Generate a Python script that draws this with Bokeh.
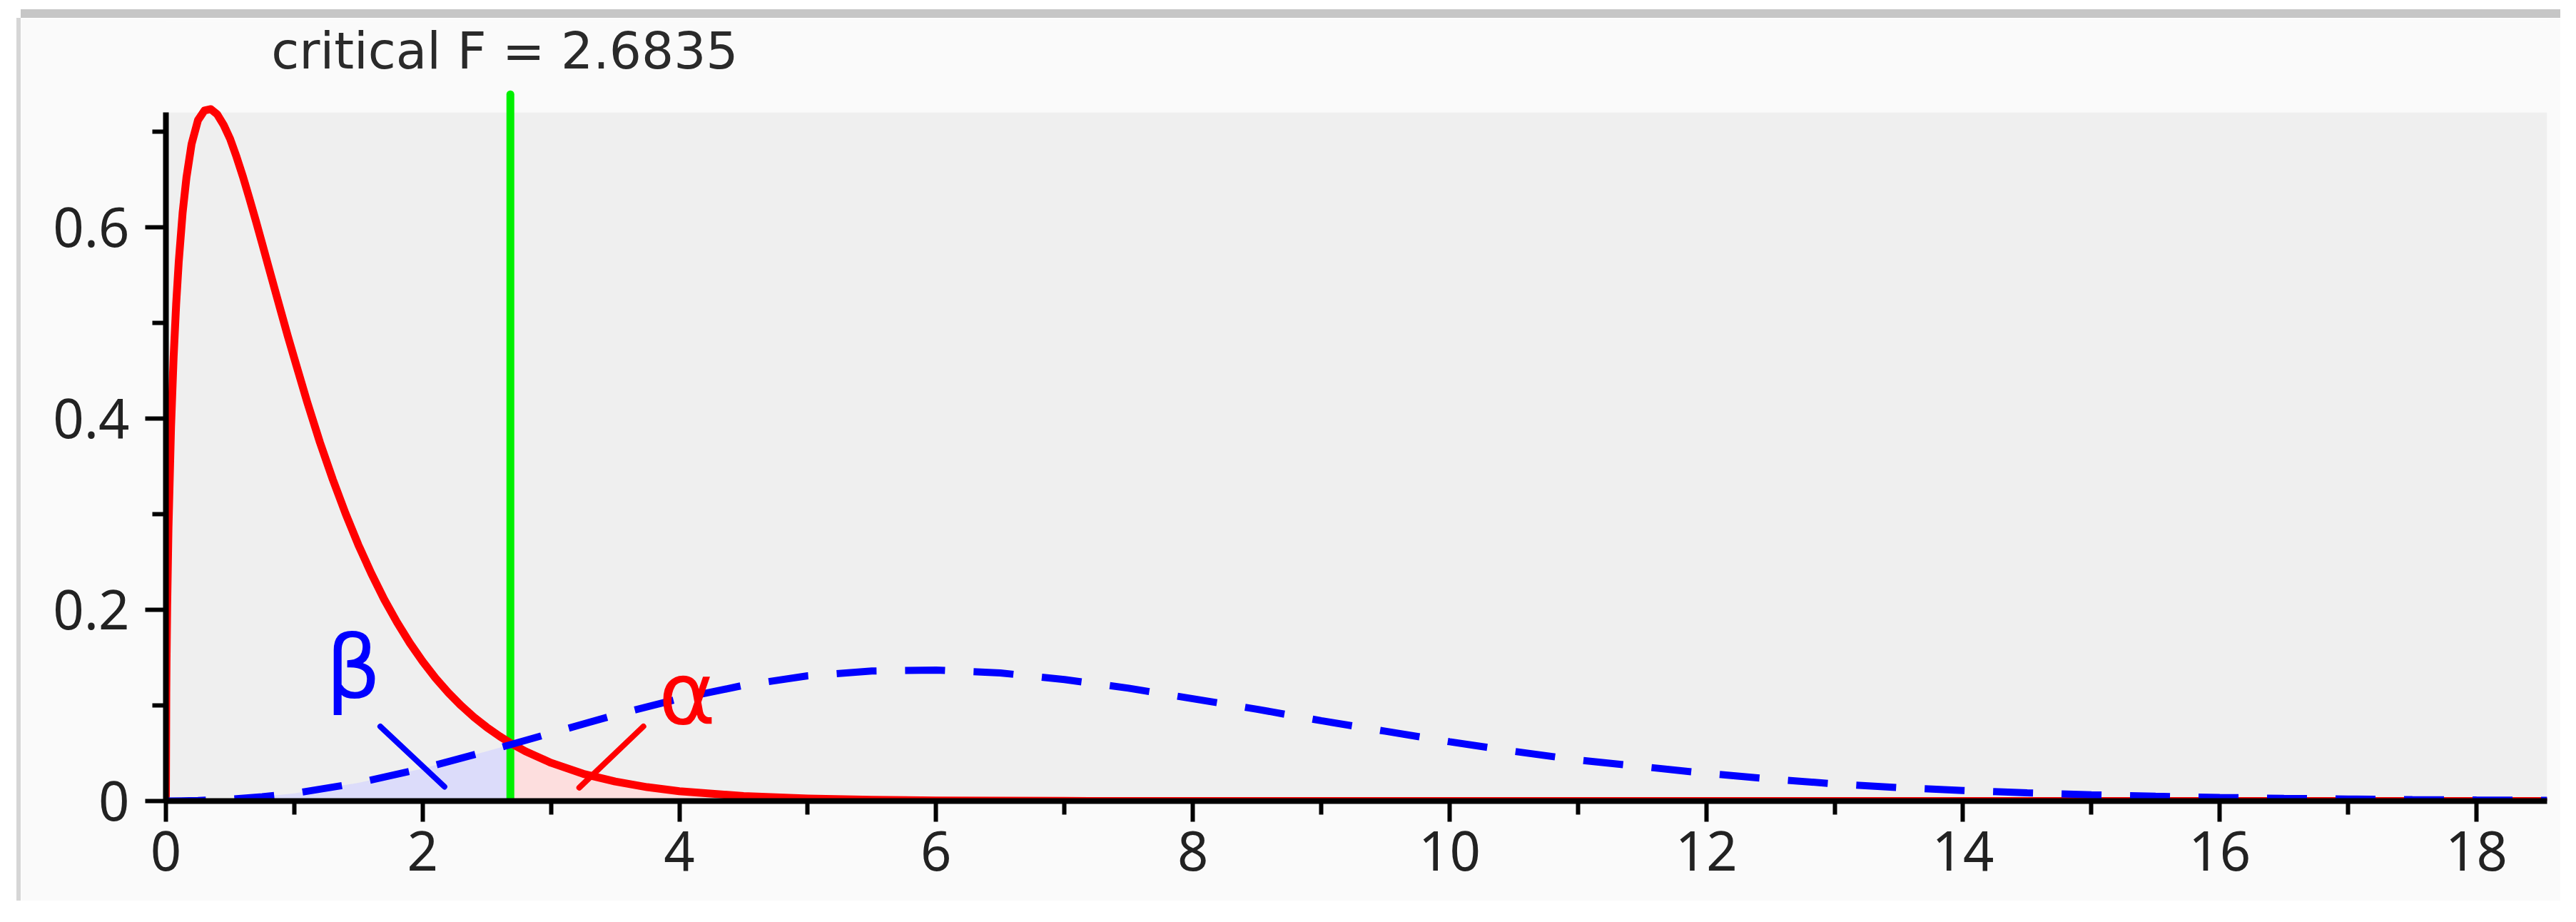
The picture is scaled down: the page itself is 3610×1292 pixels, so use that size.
import numpy as np
from bokeh.plotting import figure
from bokeh.models import Range1d, FixedTicker, BoxAnnotation, Label
from bokeh.embed import file_html
from bokeh.resources import INLINE

# ---------------- data ----------------
CRIT_F = 2.6835
X_MAX = 18.55
Y_MAX = 0.72

# central F density (null hypothesis), red solid
red_x = [0, 0.003, 0.005, 0.01, 0.02, 0.04, 0.06, 0.08, 0.1, 0.13, 0.16, 0.2,
         0.25, 0.3, 0.35, 0.4, 0.45, 0.5, 0.55, 0.6, 0.65, 0.7, 0.75, 0.8, 0.85,
         0.9, 0.95, 1.0, 1.1, 1.2, 1.3, 1.4, 1.5, 1.6, 1.7, 1.8, 1.9, 2.0, 2.1,
         2.2, 2.3, 2.4, 2.5, 2.6, 2.6835, 2.8, 3.0, 3.25, 3.5, 3.75, 4.0, 4.5,
         5.0, 5.5, 6.0, 7.0, 8.0, 18.55]
red_y = [0, 0.113, 0.1455, 0.204, 0.285, 0.391, 0.464, 0.520, 0.564, 0.615,
         0.652, 0.687, 0.712, 0.722, 0.7235, 0.718, 0.707, 0.6925, 0.6737,
         0.653, 0.6304, 0.607, 0.5829, 0.5585, 0.5342, 0.510, 0.486, 0.463,
         0.4175, 0.375, 0.3363, 0.3005, 0.2676, 0.238, 0.211, 0.187, 0.1653,
         0.146, 0.1287, 0.1134, 0.0998, 0.0877, 0.0771, 0.0677, 0.0607, 0.052,
         0.040, 0.0285, 0.0204, 0.0145, 0.0103, 0.0052, 0.0026, 0.0013, 0.0006,
         0.0001, 0, 0]

# noncentral F density (alternative), blue dashed
blue_x = [0, 0.25, 0.5, 0.75, 1, 1.5, 2, 2.5, 2.6835, 3, 3.5, 4, 4.5, 5, 5.5, 6,
          6.5, 7, 7.5, 8, 8.5, 9, 9.5, 10, 10.5, 11, 11.5, 12, 12.5, 13, 13.5,
          14, 14.5, 15, 15.5, 16, 16.5, 17, 17.5, 18, 18.55]
blue_y = [0, 0.0005, 0.002, 0.0045, 0.008, 0.019, 0.034, 0.052, 0.059, 0.071,
          0.090, 0.107, 0.121, 0.131, 0.136, 0.137, 0.134, 0.127, 0.118, 0.107,
          0.096, 0.084, 0.073, 0.062, 0.052, 0.043, 0.036, 0.029, 0.023, 0.018,
          0.014, 0.011, 0.0085, 0.0065, 0.005, 0.0038, 0.0028, 0.0021, 0.0015,
          0.0011, 0.0008]

x_ticks = [0, 2, 4, 6, 8, 10, 12, 14, 16, 18]
x_minor = [1, 3, 5, 7, 9, 11, 13, 15, 17]
x_tick_labels = ["0", "2", "4", "6", "8", "10", "12", "14", "16", "18"]
y_ticks = [0, 0.2, 0.4, 0.6]
y_minor = [0.1, 0.3, 0.5, 0.7]
y_tick_labels = ["0", "0.2", "0.4", "0.6"]

title_text = "critical F = 2.6835"
beta_text = "β"
alpha_text = "α"

# annotation placement (data units)
TITLE_POS = (2.64, 0.784)
GREEN_TOP = 0.739
BETA_POS = (1.46, 0.140)
ALPHA_POS = (4.06, 0.112)
BETA_PTR = (1.67, 0.078, 2.17, 0.015)
ALPHA_PTR = (3.72, 0.078, 3.22, 0.014)

TICK_FONT = "Noto Sans"
TEXT_FONT = "DejaVu Sans"

# ---------------- figure ----------------
p = figure(width=3559, height=1237, output_backend="svg", toolbar_location=None,
           x_range=Range1d(0, X_MAX), y_range=Range1d(0, 0.8149),
           min_border_left=203, min_border_right=19, min_border_top=5,
           min_border_bottom=140)
p.margin = (25, 0, 0, 29)
p.styles = {"box-shadow": "-6px 0px 0px 0px #d6d6d6, 0px -12px 0px 0px #c6c6c6"}
p.background_fill_color = "#fafafa"
p.border_fill_color = "#fafafa"
p.outline_line_color = None
p.grid.visible = False

p.add_layout(BoxAnnotation(left=0, right=X_MAX, bottom=0, top=Y_MAX,
                           fill_color="#efefef", fill_alpha=1, line_color=None,
                           level="underlay"))

rx = np.array(red_x); ry = np.array(red_y)
bx = np.array(blue_x); by = np.array(blue_y)
mb = bx <= CRIT_F
mr = rx >= CRIT_F
p.varea(x=bx[mb], y1=0, y2=by[mb], fill_color="#dcdcfa", fill_alpha=1)
p.varea(x=rx[mr], y1=0, y2=ry[mr], fill_color="#fddede", fill_alpha=1)

p.segment(x0=[CRIT_F], y0=[0], x1=[CRIT_F], y1=[GREEN_TOP], line_color="#00f000",
          line_width=11, line_cap="round")
p.line(rx, ry, line_color="#ff0000", line_width=11, line_join="round")
p.line(bx, by, line_color="#0000ff", line_width=10, line_dash="56 40")

p.segment(x0=[BETA_PTR[0]], y0=[BETA_PTR[1]], x1=[BETA_PTR[2]], y1=[BETA_PTR[3]],
          line_color="#0000ff", line_width=8, line_cap="round")
p.segment(x0=[ALPHA_PTR[0]], y0=[ALPHA_PTR[1]], x1=[ALPHA_PTR[2]], y1=[ALPHA_PTR[3]],
          line_color="#ff0000", line_width=8, line_cap="round")

p.add_layout(Label(x=BETA_POS[0], y=BETA_POS[1], text=beta_text, text_align="center",
                   text_baseline="alphabetic", text_font=TEXT_FONT,
                   text_font_size="122px", text_color="#0000ff"))
p.add_layout(Label(x=ALPHA_POS[0], y=ALPHA_POS[1], text=alpha_text, text_align="center",
                   text_baseline="alphabetic", text_font=TEXT_FONT,
                   text_font_size="122px", text_color="#ff0000"))
p.add_layout(Label(x=TITLE_POS[0], y=TITLE_POS[1], text=title_text, text_align="center",
                   text_baseline="alphabetic", text_font=TEXT_FONT,
                   text_font_size="71px", text_color="#2a2a2a"))

# axes
xa = p.xaxis[0]
xa.ticker = FixedTicker(ticks=x_ticks, minor_ticks=x_minor)
xa.major_label_overrides = {t: l for t, l in zip(x_ticks, x_tick_labels)}
ya = p.yaxis[0]
ya.ticker = FixedTicker(ticks=y_ticks, minor_ticks=y_minor)
ya.major_label_overrides = {t: l for t, l in zip(y_ticks, y_tick_labels)}
ya.bounds = (0, Y_MAX)
for ax in (xa, ya):
    ax.axis_line_width = 8
    ax.axis_line_color = "#000000"
    ax.major_tick_line_width = 6
    ax.minor_tick_line_width = 6
    ax.major_tick_line_color = "#000000"
    ax.minor_tick_line_color = "#000000"
    ax.major_tick_out = 29
    ax.major_tick_in = 0
    ax.minor_tick_out = 19
    ax.minor_tick_in = 0
    ax.major_label_text_font = TICK_FONT
    ax.major_label_text_font_size = "76px"
    ax.major_label_text_color = "#222222"
xa.major_label_standoff = 13
ya.major_label_standoff = 22

open("out.html", "w").write(file_html(p, INLINE))
